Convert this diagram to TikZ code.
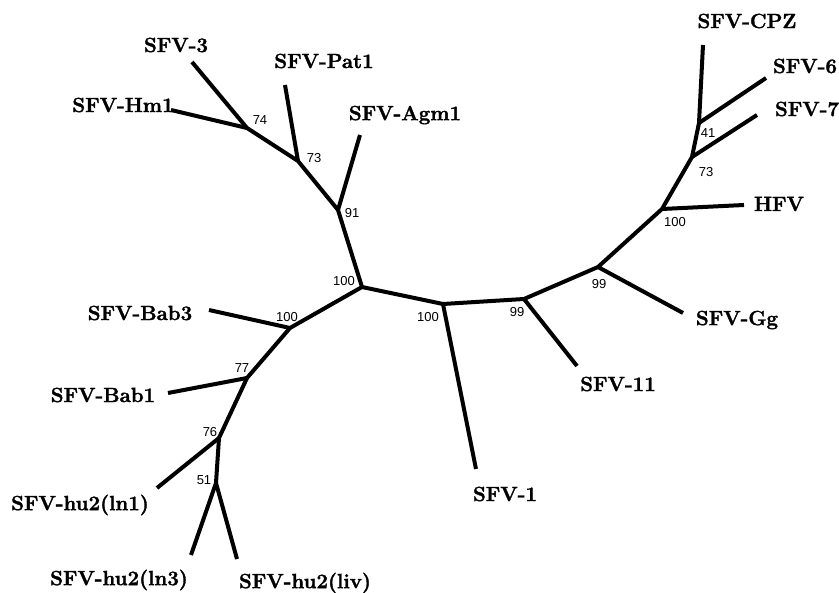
\documentclass[tikz,border=0pt]{standalone}
\usepackage{fontspec}
\newfontfamily\numfont{Liberation Sans}
\newfontfamily\taxfont[BoldFeatures={FakeBold=1.6}]{Latin Modern Roman}
\begin{document}
\begin{tikzpicture}[x=1pt,y=-1pt,
  branch/.style={line width=4pt,line join=round},
  taxon/.style={font=\taxfont\fontsize{20.5}{22}\selectfont\bfseries,inner sep=0pt},
  boot/.style={font=\numfont\fontsize{13}{14}\selectfont,inner sep=0pt}]
\useasboundingbox (0,0) rectangle (839,593);
% internal nodes
\coordinate (A) at (362,287);
\coordinate (B) at (443,304);
\coordinate (C) at (524,299);
\coordinate (D) at (598,267);
\coordinate (E) at (662,209);
\coordinate (F) at (692,157);
\coordinate (G) at (699,123);
\coordinate (H) at (338,210);
\coordinate (I) at (298,161);
\coordinate (J) at (247,128);
\coordinate (K) at (290,328);
\coordinate (L) at (247,378);
\coordinate (M) at (219,438);
\coordinate (N) at (216,483);
% leaf ends
\coordinate (l1) at (476,469);
\coordinate (l11) at (577,366);
\coordinate (lGg) at (683,313);
\coordinate (lHFV) at (744,205);
\coordinate (l7) at (757,115);
\coordinate (l6) at (766,78);
\coordinate (lCPZ) at (703,45);
\coordinate (lAgm) at (360,135);
\coordinate (lPat) at (285,85);
\coordinate (l3) at (192,62);
\coordinate (lHm) at (171,110);
\coordinate (lBab3) at (209,310);
\coordinate (lBab1) at (168,393);
\coordinate (lln1) at (157,488);
\coordinate (lln3) at (191,555);
\coordinate (lliv) at (237,559);
% branches
\draw[branch] (A) -- (B) -- (C) -- (D) -- (E) -- (F) -- (G) -- (lCPZ);
\draw[branch] (B) -- (l1);
\draw[branch] (C) -- (l11);
\draw[branch] (D) -- (lGg);
\draw[branch] (E) -- (lHFV);
\draw[branch] (F) -- (l7);
\draw[branch] (G) -- (l6);
\draw[branch] (A) -- (H) -- (I) -- (J) -- (l3);
\draw[branch] (H) -- (lAgm);
\draw[branch] (I) -- (lPat);
\draw[branch] (J) -- (lHm);
\draw[branch] (A) -- (K) -- (L) -- (M) -- (N) -- (lln3);
\draw[branch] (K) -- (lBab3);
\draw[branch] (L) -- (lBab1);
\draw[branch] (M) -- (lln1);
\draw[branch] (N) -- (lliv);
% taxon labels
\node[taxon] (t3) at (176,45) {SFV-3};
\node[taxon] (tPat) at (324,61) {SFV-Pat1};
\node[taxon] (tHm) at (123,105) {SFV-Hm1};
\node[taxon] (tAgm) at (405,115) {SFV-Agm1};
\node[taxon] (tCPZ) at (747,21) {SFV-CPZ};
\node[taxon] (t6) at (805,66) {SFV-6};
\node[taxon] (t7) at (807,109) {SFV-7};
\node[taxon] (tHFV) at (779,204) {HFV};
\node[taxon] (tGg) at (737,320) {SFV-Gg};
\node[taxon] (t11) at (618,384) {SFV-11};
\node[taxon] (t1) at (505,494) {SFV-1};
\node[taxon] (tBab3) at (140,313) {SFV-Bab3};
\node[taxon] (tBab1) at (103,395) {SFV-Bab1};
\node[taxon] (tln1) at (80,505) {SFV-hu2(ln1)};
\node[taxon] (tln3) at (119,580) {SFV-hu2(ln3)};
\node[taxon] (tliv) at (305,583) {SFV-hu2(liv)};
% bootstrap values
\node[boot] (bA) at (344,281) {100};
\node[boot] (bB) at (428,317) {100};
\node[boot] (bC) at (517,312) {99};
\node[boot] (bD) at (599,284) {99};
\node[boot] (bE) at (675,222) {100};
\node[boot] (bF) at (706,172) {73};
\node[boot] (bG) at (708,133) {41};
\node[boot] (bH) at (352,213) {91};
\node[boot] (bI) at (314,158) {73};
\node[boot] (bJ) at (260,120) {74};
\node[boot] (bK) at (287,317) {100};
\node[boot] (bL) at (242,368) {77};
\node[boot] (bM) at (210,432) {76};
\node[boot] (bN) at (204,480) {51};
\end{tikzpicture}
\end{document}
